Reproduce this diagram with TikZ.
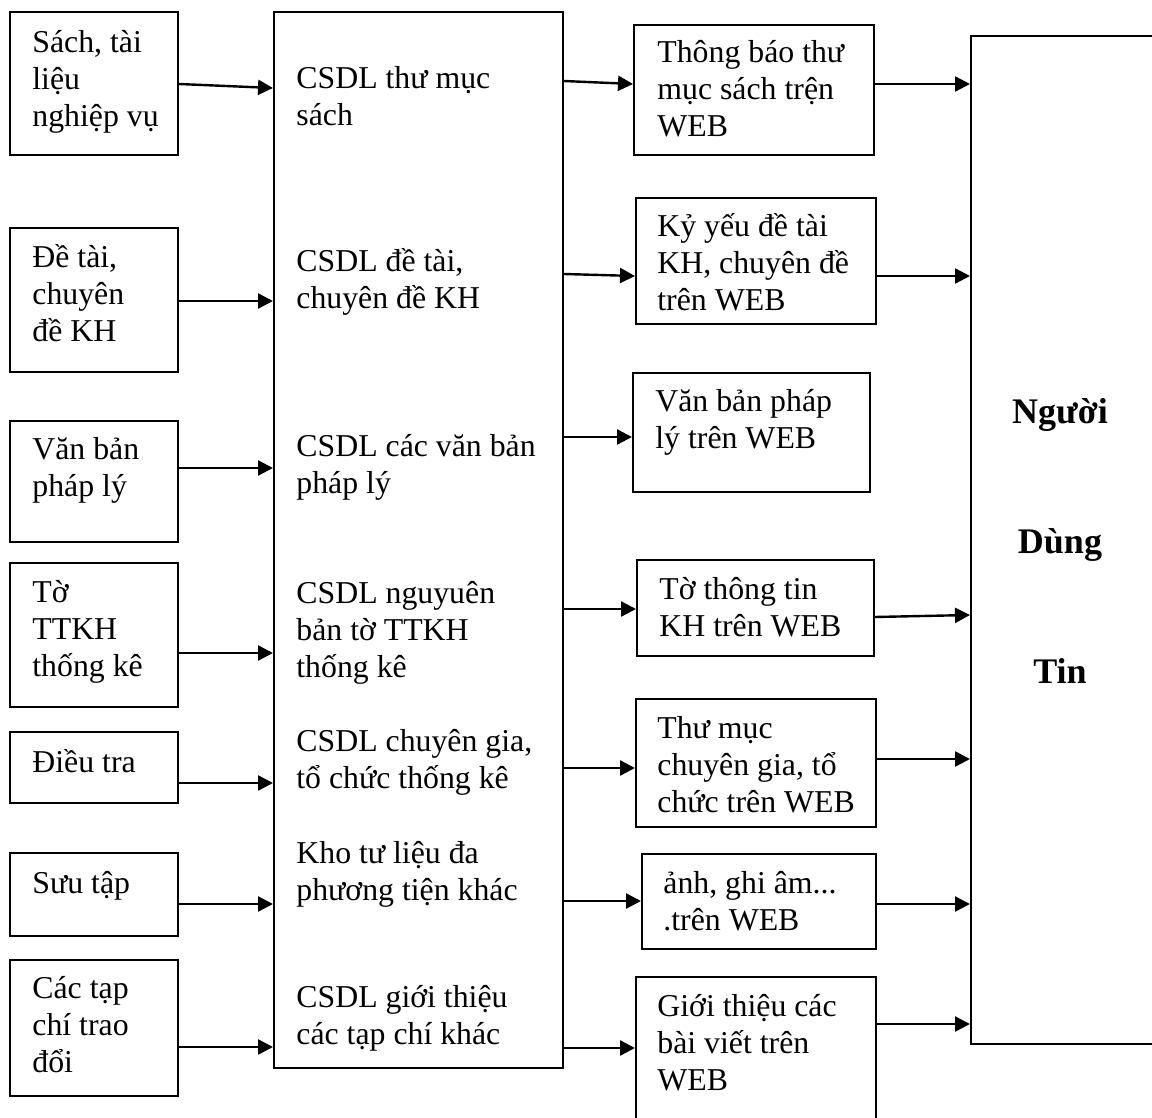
\documentclass[tikz,border=0pt]{standalone}
\usepackage{fontspec}
\setmainfont{Liberation Serif}
\usetikzlibrary{fit,arrows.meta}
\tikzset{
  box/.style={draw, line width=1pt, inner sep=0pt, fit={#1}},
  txt/.style={anchor=base west, inner sep=0pt, align=left, font=\fontsize{15.9pt}{18.5pt}\selectfont},
  big/.style={anchor=base, inner sep=0pt, font=\fontsize{18pt}{21pt}\selectfont\bfseries},
  arr/.style={line width=1.2pt, -{Triangle[length=7.5pt,width=7.5pt]}}
}
\begin{document}
\begin{tikzpicture}[x=0.5pt,y=-0.5pt]
\useasboundingbox (0,0) rectangle (1152,1118);
% left boxes
\node[box={(10,12) (178,155)}] (l1) {};
\node[box={(10,228) (178,372)}] (l2) {};
\node[box={(10,421) (178,542)}] (l3) {};
\node[box={(10,563) (178,707)}] (l4) {};
\node[box={(10,732) (178,803)}] (l5) {};
\node[box={(10,853) (178,936)}] (l6) {};
\node[box={(10,960) (178,1096)}] (l7) {};
% middle box
\node[box={(274,12) (563,1068)}] (mid) {};
% right boxes
\node[box={(634,25) (874,155)}] (r1) {};
\node[box={(636,198) (876,324)}] (r2) {};
\node[box={(633,373) (870,492)}] (r3) {};
\node[box={(637,560) (874,656)}] (r4) {};
\node[box={(636,699) (876,827)}] (r5) {};
\node[box={(642,854) (876,949)}] (r6) {};
\node[box={(636,977) (876,1140)}] (r7) {};
% user box
\node[box={(971,36) (1175,1044)}] (user) {};

% left texts (anchored at the baseline of the last line)
\node[txt] (tl1) at (32,127) {Sách, tài\\liệu\\nghiệp vụ};
\node[txt] (tl2) at (32,342) {Đề tài,\\chuyên\\đề KH};
\node[txt] (tl3) at (32,496) {Văn bản\\pháp lý};
\node[txt] (tl4) at (32,676) {Tờ\\TTKH\\thống kê};
\node[txt] (tl5) at (32,772) {Điều tra};
\node[txt] (tl6) at (32,893) {Sưu tập};
\node[txt] (tl7) at (32,1072) {Các tạp\\chí trao\\đổi};
% middle texts
\node[txt] (tm1) at (296,126) {CSDL thư mục\\sách};
\node[txt] (tm2) at (296,309) {CSDL đề tài,\\chuyên đề KH};
\node[txt] (tm3) at (296,494) {CSDL các văn bản\\pháp lý};
\node[txt] (tm4) at (296,677) {CSDL nguyuên\\bản tờ TTKH\\thống kê};
\node[txt] (tm5) at (296,788) {CSDL chuyên gia,\\tổ chức thống kê};
\node[txt] (tm6) at (296,900) {Kho tư liệu đa\\phương tiện khác};
\node[txt] (tm7) at (296,1044) {CSDL giới thiệu\\các tạp chí khác};
% right texts
\node[txt] (tr1) at (657,137) {Thông báo thư\\mục sách trện\\WEB};
\node[txt] (tr2) at (657,311) {Kỷ yếu đề tài\\KH, chuyên đề\\trên WEB};
\node[txt] (tr3) at (655,449) {Văn bản pháp\\lý trên WEB};
\node[txt] (tr4) at (659,636) {Tờ thông tin\\KH trên WEB};
\node[txt] (tr5) at (657,812) {Thư mục\\chuyên gia, tổ\\chức trên WEB};
\node[txt] (tr6) at (663,930) {ảnh, ghi âm...\\.trên WEB};
\node[txt] (tr7) at (657,1090) {Giới thiệu các\\bài viết trên\\WEB};
% user texts
\node[big] (u1) at (1060,423) {Người};
\node[big] (u2) at (1060,553) {Dùng};
\node[big] (u3) at (1060,683) {Tin};

% arrows left -> mid
\draw[arr] (l1.east |- 0,84) -- (mid.west |- 0,88);
\draw[arr] (l2.east |- 0,301) -- (mid.west |- 0,301);
\draw[arr] (l3.east |- 0,468) -- (mid.west |- 0,468);
\draw[arr] (l4.east |- 0,653) -- (mid.west |- 0,653);
\draw[arr] (l5.east |- 0,783) -- (mid.west |- 0,783);
\draw[arr] (l6.east |- 0,904) -- (mid.west |- 0,904);
\draw[arr] (l7.east |- 0,1047) -- (mid.west |- 0,1047);
% arrows mid -> right
\draw[arr] (mid.east |- 0,81) -- (r1.west |- 0,84);
\draw[arr] (mid.east |- 0,274) -- (r2.west |- 0,276);
\draw[arr] (mid.east |- 0,437) -- (r3.west |- 0,437);
\draw[arr] (mid.east |- 0,609) -- (r4.west |- 0,609);
\draw[arr] (mid.east |- 0,768) -- (r5.west |- 0,768);
\draw[arr] (mid.east |- 0,901) -- (r6.west |- 0,901);
\draw[arr] (mid.east |- 0,1048) -- (r7.west |- 0,1048);
% arrows right -> user
\draw[arr] (r1.east |- 0,84) -- (user.west |- 0,84);
\draw[arr] (r2.east |- 0,276) -- (user.west |- 0,276);
\draw[arr] (r4.east |- 0,617) -- (user.west |- 0,615);
\draw[arr] (r5.east |- 0,759) -- (user.west |- 0,759);
\draw[arr] (r6.east |- 0,904) -- (user.west |- 0,904);
\draw[arr] (r7.east |- 0,1024) -- (user.west |- 0,1024);
\end{tikzpicture}
\end{document}
